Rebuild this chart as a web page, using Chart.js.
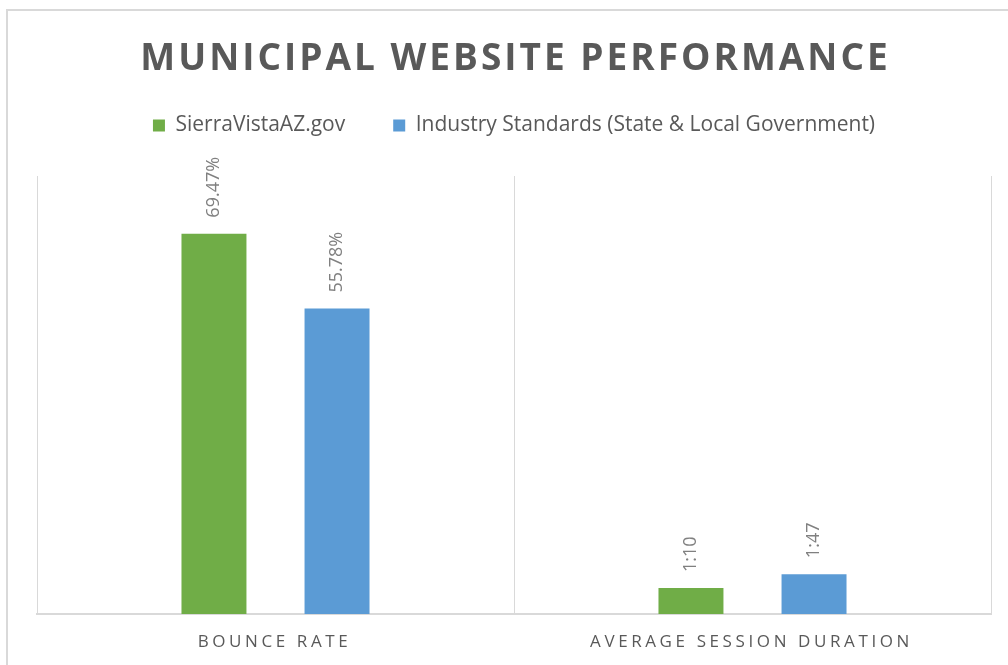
<!DOCTYPE html>
<html>
<head>
<meta charset="utf-8">
<script src="https://cdn.jsdelivr.net/npm/chart.js@4/dist/chart.umd.min.js"></script>
<style>
  html, body { margin: 0; padding: 0; background: #fff; overflow: hidden; width: 1008px; height: 665px; }
  #wrap { position: relative; width: 1008px; height: 665px; }
  #c { position: absolute; left: 0; top: 0; }
  #frame { position: absolute; left: 6px; top: 9px; width: 1100px; height: 800px;
           border-left: 2px solid #d9d9d9; border-top: 2px solid #d9d9d9; pointer-events: none; }
</style>
</head>
<body>
<div id="wrap">
  <canvas id="c" width="1008" height="665"></canvas>
  <div id="frame"></div>
</div>
<script>
const chartTitle = 'MUNICIPAL WEBSITE PERFORMANCE';
const categories = ['BOUNCE RATE', 'AVERAGE SESSION DURATION'];
const seriesNames = ['SierraVistaAZ.gov', 'Industry Standards (State & Local Government)'];
const sierraVista = [69.47, 4.76];
const industry = [55.78, 7.28];
const sierraLabels = ['69.47%', '1:10'];
const industryLabels = ['55.78%', '1:47'];
const yMax = 80;

const FONT = "'Open Sans', 'Noto Sans', sans-serif";
const GREEN = '#70AD47';
const BLUE = '#5B9BD5';

const customText = {
  id: 'customText',
  afterDraw(chart) {
    const ctx = chart.ctx;
    const area = chart.chartArea;
    const cx = (area.left + area.right) / 2;
    // Title
    ctx.save();
    ctx.font = 'bold 37px ' + FONT;
    ctx.fillStyle = '#595959';
    ctx.textAlign = 'center';
    ctx.textBaseline = 'middle';
    ctx.letterSpacing = '3px';
    ctx.fillText(chartTitle, cx + 1.5, 59);
    ctx.restore();

    // Category labels
    const xs = chart.scales.x;
    ctx.save();
    ctx.font = '17px ' + FONT;
    ctx.fillStyle = '#595959';
    ctx.textAlign = 'center';
    ctx.textBaseline = 'middle';
    ctx.letterSpacing = '3.6px';
    categories.forEach((c, i) => {
      ctx.fillText(c, xs.getPixelForValue(i) - 1, area.bottom + 28);
    });
    ctx.restore();

    // Rotated value labels
    const lbls = [sierraLabels, industryLabels];
    ctx.save();
    ctx.font = '18px ' + FONT;
    ctx.fillStyle = '#808080';
    chart.data.datasets.forEach((ds, di) => {
      const meta = chart.getDatasetMeta(di);
      meta.data.forEach((bar, i) => {
        ctx.save();
        ctx.translate(bar.x, bar.y - 16);
        ctx.rotate(-Math.PI / 2);
        ctx.textAlign = 'left';
        ctx.textBaseline = 'middle';
        ctx.fillText(lbls[di][i], 0, 0);
        ctx.restore();
      });
    });
    ctx.restore();
  }
};

new Chart(document.getElementById('c'), {
  type: 'bar',
  data: {
    labels: categories,
    datasets: [
      { label: seriesNames[0], data: sierraVista, backgroundColor: GREEN, borderWidth: 0 },
      { label: seriesNames[1], data: industry, backgroundColor: BLUE, borderWidth: 0 }
    ]
  },
  options: {
    responsive: false,
    animation: false,
    devicePixelRatio: 1,
    categoryPercentage: 0.516,
    barPercentage: 0.528,
    layout: { padding: { left: 37, right: 17, top: 67, bottom: 51 } },
    plugins: {
      title: { display: false },
      subtitle: {
        display: true, text: '', position: 'top', weight: 500,
        font: { size: 1, lineHeight: 1 }, padding: { top: 0, bottom: 29 }
      },
      legend: {
        display: true, position: 'top', weight: 1000,
        labels: {
          boxWidth: 12, boxHeight: 12, padding: 48,
          color: '#595959',
          font: { family: FONT, size: 21 }
        }
      },
      tooltip: { enabled: false }
    },
    scales: {
      x: {
        grid: { offset: true, color: '#d9d9d9', lineWidth: 1, drawTicks: false },
        border: { color: '#d9d9d9', width: 2 },
        ticks: { display: false }
      },
      y: { display: false, min: 0, max: yMax }
    }
  },
  plugins: [customText]
});
</script>
</body>
</html>
